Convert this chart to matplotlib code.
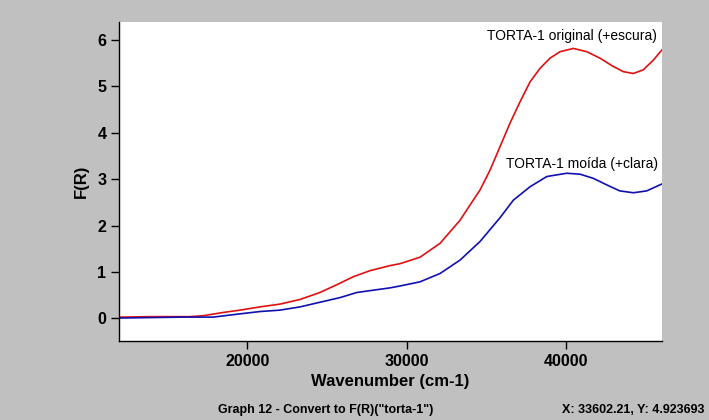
import matplotlib
matplotlib.use("Agg")
import matplotlib.pyplot as plt

# Data
red_x = [12000, 14000, 16400, 17240, 18490, 19540, 20800, 22050, 23310, 24560, 25820, 26650,
         27700, 28960, 29580, 30840, 32100, 32730, 33360, 33990, 34610, 35240, 35860, 36490,
         37120, 37750, 38370, 39000, 39630, 40470, 41310, 42140, 42980, 43600, 44230, 44860,
         45490, 46030]
red_y = [0.03, 0.04, 0.04, 0.06, 0.13, 0.18, 0.25, 0.31, 0.41, 0.56, 0.76, 0.90,
         1.03, 1.14, 1.18, 1.32, 1.62, 1.87, 2.12, 2.45, 2.77, 3.20, 3.70, 4.21,
         4.67, 5.10, 5.39, 5.61, 5.75, 5.82, 5.75, 5.61, 5.43, 5.32, 5.28, 5.36,
         5.57, 5.79]

blue_x = [12000, 14000, 16000, 17870, 19540, 20800, 22050, 23310, 24560, 25820, 26870, 27700,
          28960, 29580, 30840, 32100, 33360, 34610, 35860, 36700, 37750, 38800, 40050, 40890,
          41720, 42560, 43380, 44230, 45070, 46030]
blue_y = [0.01, 0.02, 0.03, 0.03, 0.10, 0.15, 0.18, 0.25, 0.35, 0.45, 0.56, 0.60,
          0.66, 0.70, 0.79, 0.97, 1.26, 1.66, 2.17, 2.55, 2.84, 3.06, 3.13, 3.11,
          3.02, 2.88, 2.75, 2.71, 2.75, 2.90]

red_label = "TORTA-1 original (+escura)"
blue_label = "TORTA-1 moída (+clara)"
x_ticks = [20000, 30000, 40000]
y_ticks = [0, 1, 2, 3, 4, 5, 6]
x_label = "Wavenumber (cm-1)"
y_label = "F(R)"
status_left = 'Graph 12 - Convert to F(R)("torta-1")'
status_right = "X: 33602.21, Y: 4.923693"

W, H = 709, 420
fig = plt.figure(figsize=(W / 100, H / 100), dpi=100, facecolor="#c0c0c0")
ax = fig.add_axes([119 / W, 1 - 341 / H, (662 - 119) / W, (341 - 22) / H])
ax.set_facecolor("white")

ax.plot(red_x, red_y, color="#e01010", lw=1.2, solid_joinstyle="round")
ax.plot(blue_x, blue_y, color="#1010b0", lw=1.2, solid_joinstyle="round")

ax.set_xlim(11950, 46030)
ax.set_ylim(-0.485, 6.39)
ax.set_xticks(x_ticks)
ax.set_yticks(y_ticks)

for s in ["top", "right"]:
    ax.spines[s].set_visible(False)
for s in ["left", "bottom"]:
    ax.spines[s].set_linewidth(1.0)
    ax.spines[s].set_color("black")

ax.tick_params(direction="out", length=6, width=1.0, colors="black", pad=3)
for lab in ax.get_xticklabels() + ax.get_yticklabels():
    lab.set_fontfamily("Liberation Sans")
    lab.set_fontweight("bold")
    lab.set_fontsize(11.5)

ax.set_xlabel(x_label, family="Liberation Sans", weight="bold", fontsize=12, labelpad=4)
ax.set_ylabel(y_label, family="Liberation Sans", weight="bold", fontsize=12, labelpad=6)

ax.text(0.99, 0.955, red_label, transform=ax.transAxes, ha="right", va="center",
        family="Liberation Sans", fontsize=10)
ax.text(0.992, 0.555, blue_label, transform=ax.transAxes, ha="right", va="center",
        family="Liberation Sans", fontsize=10)

fig.text(326 / W, 1 - 410 / H, status_left, ha="center", va="center",
         family="Liberation Sans", weight="bold", fontsize=9)
fig.text(705 / W, 1 - 410 / H, status_right, ha="right", va="center",
         family="Liberation Sans", weight="bold", fontsize=9)

fig.savefig("out.png", dpi=100, facecolor=fig.get_facecolor())
